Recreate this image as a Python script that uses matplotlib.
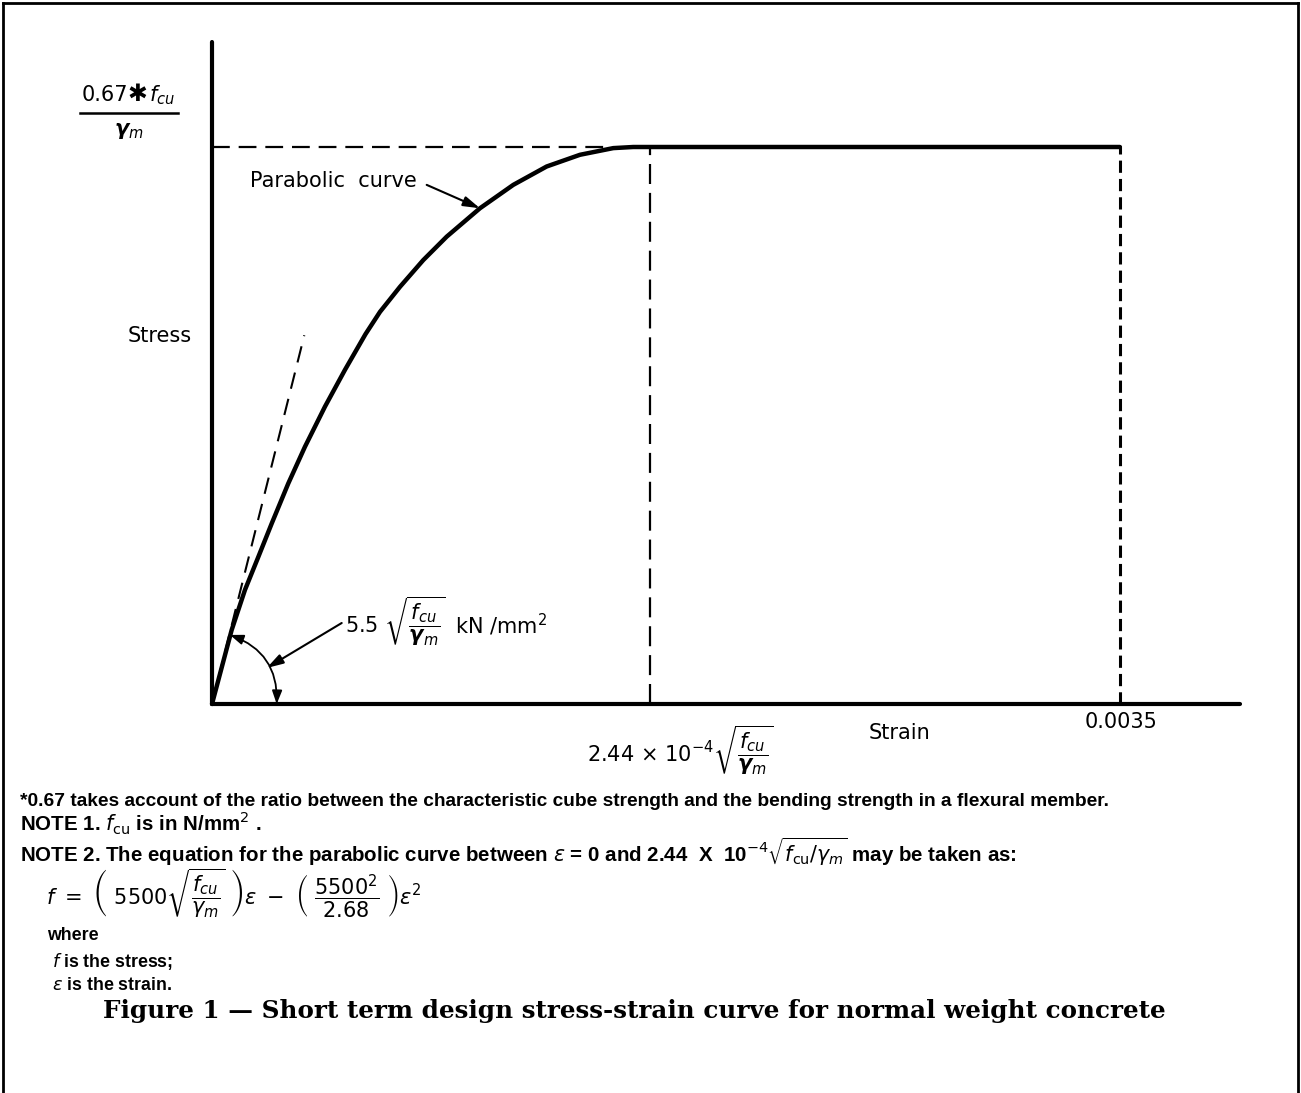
import matplotlib
matplotlib.use("Agg")
import matplotlib.pyplot as plt
from matplotlib.lines import Line2D
from matplotlib.patches import FancyArrowPatch

W, H = 1301, 1093

# ---- data (strain, stress normalised to plateau) ----
curve_strain = [0.0, 7.59e-5, 1.272e-4, 1.785e-4, 2.301e-4, 2.941e-4, 3.585e-4, 4.356e-4,
                5.127e-4, 5.917e-4, 6.476e-4, 7.247e-4, 8.145e-4, 9.047e-4, 1.0330e-3,
                1.1614e-3, 1.2901e-3, 1.4185e-3, 1.5469e-3, 1.624e-3, 3.50e-3]
curve_stress = [0.0, 0.133, 0.205, 0.264, 0.324, 0.396, 0.462, 0.534,
                0.600, 0.664, 0.704, 0.749, 0.797, 0.839, 0.890,
                0.932, 0.965, 0.986, 0.998, 1.0, 1.0]
plateau_stress = 1.0
strain_peak = 1.688e-3          # 2.44e-4 sqrt(fcu/gm) mark
strain_ult = 0.0035
tangent_strain = [0.0, 3.558e-4]
tangent_stress = [0.0, 0.662]
dash_h_strain = [0.0, 1.534e-3]

# annotation anchor points (strain, stress)
arc_start = (2.494e-4, 0.0)
arc_end = (6.94e-5, 0.124)
mod_leader_from = (5.0e-4, 0.1454)
mod_leader_to = (2.108e-4, 0.0646)
par_leader_from = (8.276e-4, 0.932)
par_leader_to = (1.033e-3, 0.890)

xmax, ymax = 0.003963, 1.1885

plt.rcParams['font.family'] = ['DejaVu Sans']
plt.rcParams['mathtext.fontset'] = 'dejavusans'

fig = plt.figure(figsize=(W / 100, H / 100), dpi=100)

def fx(x):
    return x / W

def fy(y):
    return 1 - y / H

ax = fig.add_axes([fx(212), fy(704), (1240 - 212) / W, (704 - 42) / H])
ax.set_xlim(0, xmax)
ax.set_ylim(0, ymax)
for s in ['top', 'right']:
    ax.spines[s].set_visible(False)
for s in ['left', 'bottom']:
    ax.spines[s].set_linewidth(3)
    ax.spines[s].set_capstyle('round')
ax.set_xticks([])
ax.set_yticks([])
ax.patch.set_alpha(0)

# main curve + plateau
ax.plot(curve_strain, curve_stress, color='black', lw=3.2, solid_joinstyle='round',
        solid_capstyle='round', clip_on=False)
# dashed lines
ax.plot(dash_h_strain, [plateau_stress, plateau_stress], color='black', lw=1.6,
        dashes=(8, 4))
ax.plot([strain_peak, strain_peak], [0, plateau_stress], color='black', lw=1.6,
        dashes=(9, 4))
ax.plot([strain_ult, strain_ult], [0, plateau_stress], color='black', lw=2.2,
        dashes=(4, 2))
ax.plot(tangent_strain, tangent_stress, color='black', lw=1.5, dashes=(8, 5))

# angle arc with arrows
arc = FancyArrowPatch(arc_start, arc_end, arrowstyle='<|-|>,head_length=8,head_width=3',
                      connectionstyle='arc3,rad=0.36', color='black', lw=1.3,
                      shrinkA=0, shrinkB=0)
ax.add_patch(arc)
# leader for modulus label
ax.annotate('', xy=mod_leader_to, xytext=mod_leader_from,
            arrowprops=dict(arrowstyle='-|>,head_length=1.0,head_width=0.3',
                            color='black', lw=1.5, shrinkA=0, shrinkB=0))
# leader for parabolic curve label
ax.annotate('', xy=par_leader_to, xytext=par_leader_from,
            arrowprops=dict(arrowstyle='-|>,head_length=1.0,head_width=0.3',
                            color='black', lw=1.5, shrinkA=0, shrinkB=0))

lab = dict(fontsize=15, color='black')
fig.text(fx(250), fy(181), 'Parabolic  curve', ha='left', va='center', **lab)
fig.text(fx(192), fy(336), 'Stress', ha='right', va='center', **lab)
fig.text(fx(899), fy(733), 'Strain', ha='center', va='center', **lab)
fig.text(fx(1121), fy(722), '0.0035', ha='center', va='center', **lab)
fig.text(fx(345), fy(621), r'5.5 $\sqrt{\dfrac{f_{cu}}{\boldsymbol{\gamma}_{m}}}$',
         ha='left', va='center', **lab)
fig.text(fx(455), fy(625), r'kN /mm$^2$', ha='left', va='center', **lab)
fig.text(fx(680), fy(750), r'2.44 $\times$ 10$^{-4}$$\sqrt{\dfrac{f_{cu}}{\boldsymbol{\gamma}_{m}}}$',
         ha='center', va='center', **lab)

# y-axis fraction label
fig.text(fx(82), fy(101), '0.67', ha='left', va='baseline', **lab)
fig.text(fx(127), fy(101), '\u2731', ha='left', va='baseline', fontsize=17,
         family='DejaVu Sans', color='black')
fig.text(fx(149), fy(101), r'$f_{cu}$', ha='left', va='baseline', **lab)
fig.add_artist(Line2D([fx(80), fx(178)], [fy(113), fy(113)], color='black', lw=1.8))
fig.text(fx(129), fy(131), r'$\boldsymbol{\gamma}_{m}$', ha='center', va='center', **lab)

# notes
fam = ['Liberation Sans', 'DejaVu Sans']
nt = dict(fontsize=13.8, fontweight='bold', color='black', ha='left', va='center', family=fam)
nt2 = dict(nt, fontsize=14.8)
nt3 = dict(nt, fontsize=12.8)
fig.text(fx(20), fy(801), '*0.67 takes account of the ratio between the characteristic cube strength '
         'and the bending strength in a flexural member.', **nt)
fig.text(fx(20), fy(823), r'NOTE 1. $f_{\mathrm{cu}}$ is in N/mm$^2$ .', **nt2)
fig.text(fx(20), fy(852), r'NOTE 2. The equation for the parabolic curve between $\epsilon$ = 0 and '
         r'2.44  X  10$^{-4}\sqrt{f_{\mathrm{cu}}/\gamma_m}$ may be taken as:', **nt2)
fig.text(fx(46), fy(893), r'$f\ =\ \left(\ 5500\sqrt{\dfrac{f_{cu}}{\gamma_m}}\ \right)\epsilon\ -\ '
         r'\left(\ \dfrac{5500^2}{2.68}\ \right)\epsilon^2$', fontsize=15, color='black',
         ha='left', va='center')
fig.text(fx(47), fy(936), 'where', **nt3)
fig.text(fx(52), fy(961), r'$f$ is the stress;', **nt3)
fig.text(fx(52), fy(986), r'$\epsilon$ is the strain.', **nt3)

fig.text(fx(634), fy(1011), 'Figure 1 \u2014 Short term design stress-strain curve for normal weight concrete',
         ha='center', va='center', fontsize=17.7, fontweight='bold', family='DejaVu Serif',
         color='black')

# page border
for xs, ys in [([3, 3], [1093, 3]), ([3, 1298], [3, 3]), ([1298, 1298], [3, 1093])]:
    fig.add_artist(Line2D([fx(x) for x in xs], [fy(y) for y in ys], color='black', lw=2))

fig.savefig('out.png', dpi=100)
